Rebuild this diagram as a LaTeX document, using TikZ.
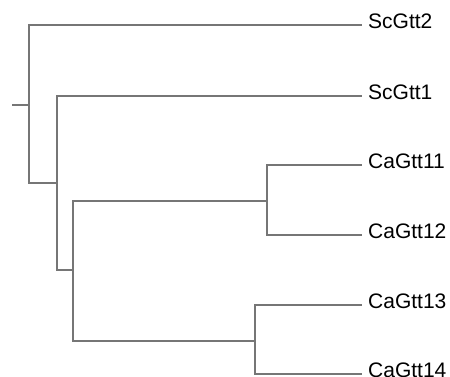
\documentclass[tikz,border=0pt]{standalone}
\usepackage{fontspec}
\setmainfont{Liberation Sans}
\usepackage{tikz}
\usetikzlibrary{positioning,calc}
\tikzstyle{ramo} = [draw={rgb,255:red,118;green,118;blue,118}, line width=1.2pt]
\tikzstyle{foglia} = [anchor=west, inner xsep=6pt, inner ysep=0pt, text height=15pt, text depth=9pt, font=\fontsize{21}{24}\selectfont]

\begin{document}
\begin{tikzpicture}[x=1pt,y=-1pt]
	\useasboundingbox (0,0) rectangle (450,376);
	\coordinate (r) at (12,105);
	\coordinate (n1) at (29,105);
	\coordinate (n2) at (57,183);
	\coordinate (n3) at (73,270);
	\coordinate (n4) at (267,201);
	\coordinate (n5) at (255,341);
	\node (sc2) at (362,25) [foglia] {ScGtt2};
	\node (sc1) at (362,96) [foglia] {ScGtt1};
	\node (ca11) at (362,165) [foglia] {CaGtt11};
	\node (ca12) at (362,235) [foglia] {CaGtt12};
	\node (ca13) at (362,305) [foglia] {CaGtt13};
	\node (ca14) at (362,374) [foglia] {CaGtt14};
	\draw [ramo] (r) -- (n1);
	\draw [ramo] (n1) |- (sc2.west);
	\draw [ramo] (n1) |- (n2);
	\draw [ramo] (n2) |- (sc1.west);
	\draw [ramo] (n2) |- (n3);
	\draw [ramo] (n3) |- (n4);
	\draw [ramo] (n3) |- (n5);
	\draw [ramo] (n4) |- (ca11.west);
	\draw [ramo] (n4) |- (ca12.west);
	\draw [ramo] (n5) |- (ca13.west);
	\draw [ramo] (n5) |- (ca14.west);
\end{tikzpicture}
\end{document}
